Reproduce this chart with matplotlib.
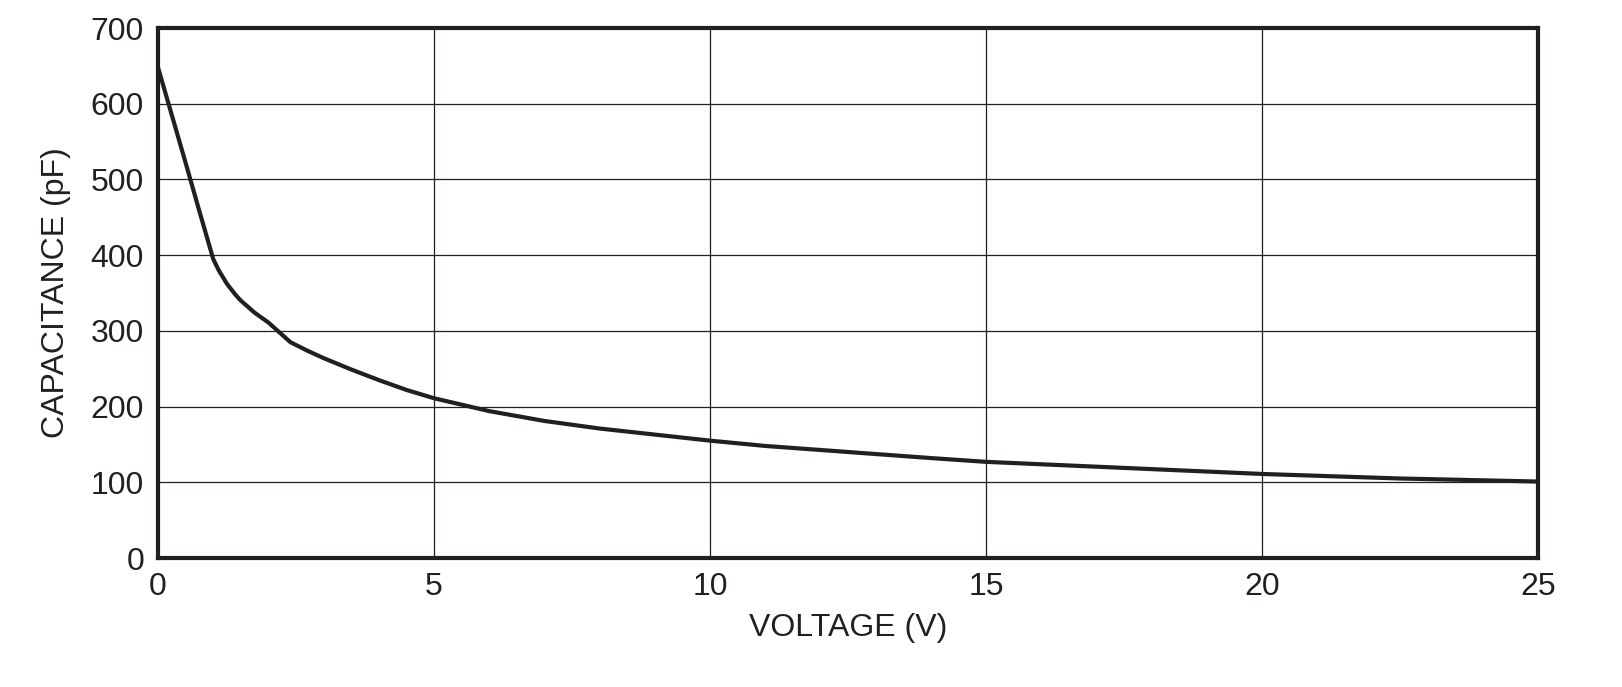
import matplotlib
matplotlib.use('Agg')
import matplotlib.pyplot as plt

plt.rcParams['font.family'] = ['Liberation Sans', 'DejaVu Sans']

# voltage (V) vs capacitance (pF)
voltage = [0, 0.25, 0.5, 0.75, 1.0, 1.1, 1.25, 1.4, 1.5, 1.75, 2.0, 2.4, 2.7, 3.0, 3.5, 4.0, 4.5,
           5.0, 6.0, 7.0, 8.0, 9.0, 10.0, 11.0, 12.5, 14.0, 15.0, 17.5, 20.0, 22.5, 25.0]
capacitance = [648, 585, 522, 458, 395, 380, 362, 348, 340, 324, 311, 285, 274, 264, 249, 235, 222,
               211, 194, 181, 171, 163, 155, 148, 140, 132, 127, 119, 111, 105, 101]

fig = plt.figure(figsize=(16.22, 6.87), dpi=100)
ax = fig.add_axes([158/1622, 1-558/687, 1380/1622, 530/687])

ax.plot(voltage, capacitance, color='#231f20', lw=3, solid_joinstyle='round')

ax.set_xlim(0, 25)
ax.set_ylim(0, 700)
ax.set_xticks(range(0, 26, 5))
ax.set_yticks(range(0, 701, 100))
ax.grid(True, color='#231f20', lw=0.9)
ax.tick_params(labelsize=23, length=0, pad=10, colors='#231f20')
for s in ax.spines.values():
    s.set_linewidth(3)
    s.set_color('#231f20')

ax.set_xlabel('VOLTAGE (V)', fontsize=23, color='#231f20', labelpad=8)
ax.set_ylabel('CAPACITANCE (pF)', fontsize=23, color='#231f20', labelpad=14)

plt.savefig('out.png', dpi=100)
